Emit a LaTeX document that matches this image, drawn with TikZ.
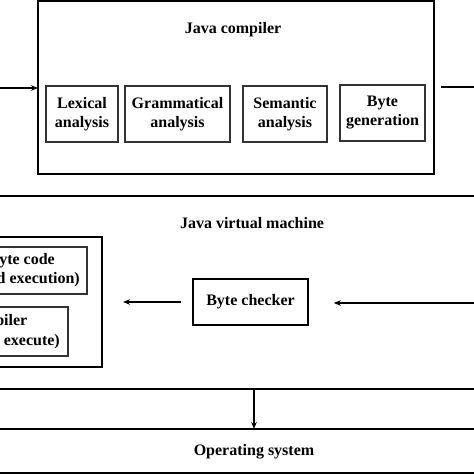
\documentclass[tikz,border=0pt]{standalone}
\usepackage{fontspec}
\setmainfont{Liberation Serif}
\usetikzlibrary{arrows.meta}
\begin{document}
\begin{tikzpicture}[x=1pt,y=-1pt,
  outerbox/.style={draw=black,line width=2pt},
  innerbox/.style={draw=black!80,line width=1.5pt},
  lbl/.style={font=\fontsize{16}{19}\selectfont\bfseries,align=center,inner sep=0pt},
  arr/.style={line width=1.5pt,-{Stealth[length=7pt,width=5.5pt]}},
  plain/.style={line width=1.5pt}]
\useasboundingbox (0,0) rectangle (474,474);
\clip (0,0) rectangle (474,474);
\fill[white] (0,0) rectangle (474,474);
% compiler
\draw[outerbox] (38,1) rectangle (434,174);
\coordinate (compW) at (38,88);
\coordinate (compE) at (434,87);
\node[lbl] (ctitle) at (233,30) {Java compiler};
\draw[innerbox] (46,86) rectangle (118,142);
\node[lbl] (lex) at (82,114) {Lexical\\analysis};
\draw[innerbox] (125,86) rectangle (230,142);
\node[lbl] (gram) at (177.5,114) {Grammatical\\analysis};
\draw[innerbox] (243,86) rectangle (327,142);
\node[lbl] (sem) at (285,114) {Semantic\\analysis};
\draw[innerbox] (340,85) rectangle (425,141);
\node[lbl] (bgen) at (382.5,113) {Byte\\generation};
\coordinate (inL) at (0,88);
\draw[arr] (inL) -- (compW);
\coordinate (outS) at (441,87);
\coordinate (outE) at (476,87);
\draw[plain] (outS) -- (outE);
% JVM
\draw[outerbox] (-5,196) rectangle (479,389);
\node[lbl] (jtitle) at (252,223) {Java virtual machine};
\draw[outerbox] (-5,237) rectangle (102,367);
\coordinate (interpE) at (102,302);
\draw[innerbox] (-5,247) rectangle (87,294);
\node[lbl,anchor=east] (bc1) at (55,261) {Interpreting byte code};
\node[lbl,anchor=east] (bc2) at (80,280) {(interpretation and execution)};
\draw[innerbox] (-5,307) rectangle (68,356);
\node[lbl,anchor=east] (jit1) at (27.5,322) {JIT compiler};
\node[lbl,anchor=east] (jit2) at (60,342) {(compile and execute)};
\node[innerbox,draw=black,minimum width=115pt,minimum height=46pt,lbl,line width=1.5pt] (chk) at (250.5,302) {Byte checker};
\draw[arr,shorten <=11pt,shorten >=21pt] (chk.west) -- (interpE);
\coordinate (rin) at (476,303);
\draw[arr,shorten >=25pt] (rin) -- (chk.east |- rin);
% OS
\coordinate (jvmB) at (254,389);
\coordinate (osT) at (254,429);
\draw[arr] (jvmB) -- (osT);
\draw[outerbox] (-5,429) rectangle (479,473);
\node[lbl] (os) at (254,452) {Operating system};
\end{tikzpicture}
\end{document}
